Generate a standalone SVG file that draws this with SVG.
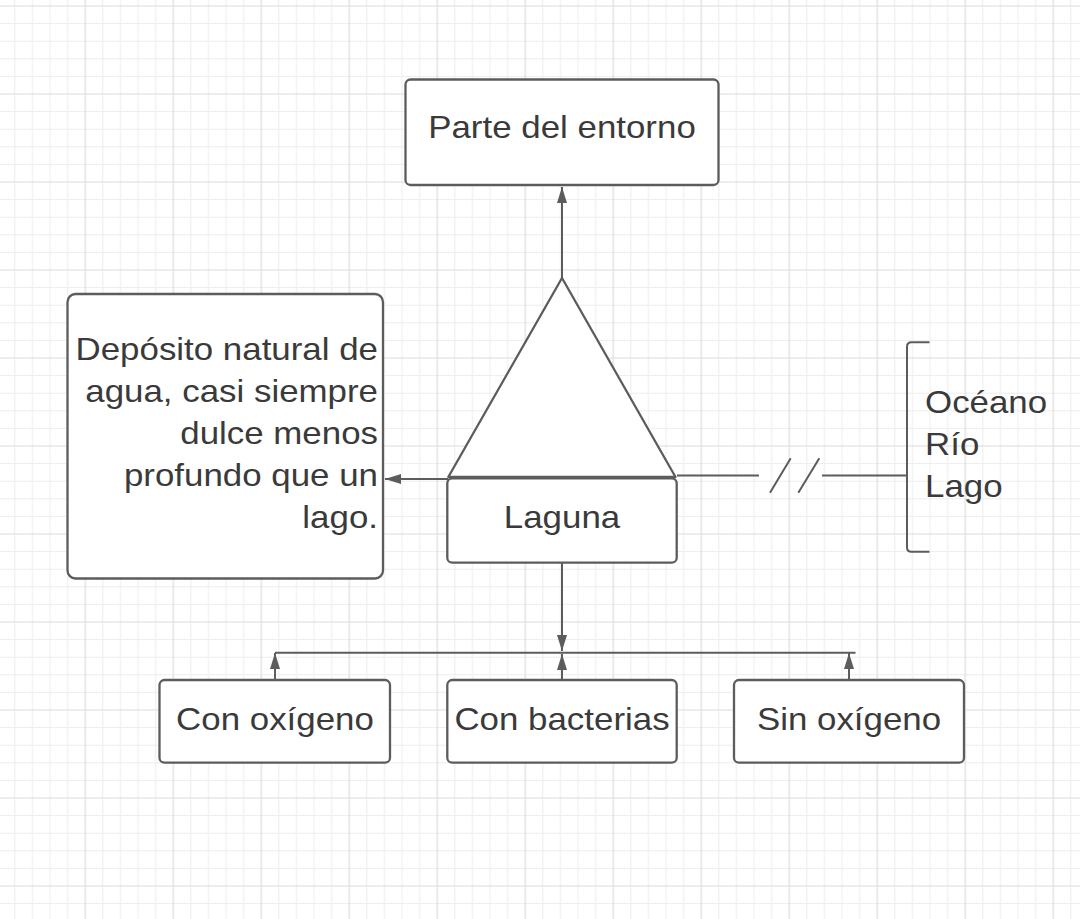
<svg xmlns="http://www.w3.org/2000/svg" width="1080" height="919" viewBox="0 0 1080 919">
<style>
.box{fill:#ffffff;stroke:#5c5c5c;stroke-width:2.3}
.ln{fill:none;stroke:#5c5c5c;stroke-width:2}
.t{font-family:"Liberation Sans",Arial,sans-serif;font-size:32px;fill:#3a3a3a}
.mn{stroke:#ededed;stroke-width:1}
.mj{stroke:#dcdcdc;stroke-width:1.2}
</style>
<defs>
<pattern id="grid" patternUnits="userSpaceOnUse" x="41.3" y="-38" width="88" height="88">
<path class="mn" d="M8.8,0V88M26.4,0V88M61.6,0V88M79.2,0V88M0,8.8H88M0,26.4H88M0,61.6H88M0,79.2H88"/>
<path class="mj" d="M44,0V88M0,44H88"/>
</pattern>
<marker id="arr" viewBox="0 0 16 10" refX="16" refY="5" markerWidth="16" markerHeight="10" markerUnits="userSpaceOnUse" orient="auto">
<path d="M0,0L16,5L0,10z" fill="#5c5c5c"/>
</marker>
</defs>
<rect width="1080" height="919" fill="#ffffff"/>
<rect width="1080" height="919" fill="url(#grid)"/>

<g id="connectors">
<path class="ln" d="M562,279V187" marker-end="url(#arr)"/>
<path class="ln" d="M448,479H385" marker-end="url(#arr)"/>
<path class="ln" d="M562,563V651" marker-end="url(#arr)"/>
<path class="ln" d="M275,652.7H855.5"/>
<path class="ln" d="M275,680V653" marker-end="url(#arr)"/>
<path class="ln" d="M562,680V654" marker-end="url(#arr)"/>
<path class="ln" d="M849,680V653" marker-end="url(#arr)"/>
<path class="ln" d="M677,475.5H759M822,475.5H907"/>
<path class="ln" d="M770,492.7L790.7,458.3M798.3,492.7L819.3,458.3"/>
</g>

<g id="parte-entorno">
<rect class="box" x="405.5" y="79.5" width="313" height="105.5" rx="5"/>
<text class="t" text-anchor="middle" transform="translate(562,137.5) scale(1.09,1)">Parte del entorno</text>
</g>

<g id="triangle">
<path class="box" d="M562,278L675.5,477H448.3Z" stroke-linejoin="round"/>
</g>

<g id="laguna">
<rect class="box" x="447.3" y="478.3" width="229.4" height="84.4" rx="5"/>
<text class="t" text-anchor="middle" transform="translate(562,527.5) scale(1.09,1)">Laguna</text>
</g>

<g id="definicion">
<rect class="box" x="67.5" y="294" width="315.5" height="284.5" rx="8"/>
<text class="t" text-anchor="end" transform="translate(378,360) scale(1.09,1)">Depósito natural de</text>
<text class="t" text-anchor="end" transform="translate(378,402) scale(1.09,1)">agua, casi siempre</text>
<text class="t" text-anchor="end" transform="translate(378,444) scale(1.09,1)">dulce menos</text>
<text class="t" text-anchor="end" transform="translate(378,486) scale(1.09,1)">profundo que un</text>
<text class="t" text-anchor="end" transform="translate(378,528) scale(1.09,1)">lago.</text>
</g>

<g id="tipos-agua">
<path class="ln" d="M929.5,342.3H911.5Q907,342.3 907,346.8V547.2Q907,551.7 911.5,551.7H929.5" stroke-width="2.3"/>
<text class="t" transform="translate(925,413) scale(1.09,1)">Océano</text>
<text class="t" transform="translate(925,455) scale(1.09,1)">Río</text>
<text class="t" transform="translate(925,497) scale(1.09,1)">Lago</text>
</g>

<g id="con-oxigeno">
<rect class="box" x="159.5" y="680" width="230.5" height="82.7" rx="5"/>
<text class="t" text-anchor="middle" transform="translate(275,730) scale(1.09,1)">Con oxígeno</text>
</g>

<g id="con-bacterias">
<rect class="box" x="447.3" y="680" width="229.4" height="82.7" rx="5"/>
<text class="t" text-anchor="middle" transform="translate(562,730) scale(1.09,1)">Con bacterias</text>
</g>

<g id="sin-oxigeno">
<rect class="box" x="734" y="680" width="230" height="82.7" rx="5"/>
<text class="t" text-anchor="middle" transform="translate(849,730) scale(1.09,1)">Sin oxígeno</text>
</g>
</svg>
